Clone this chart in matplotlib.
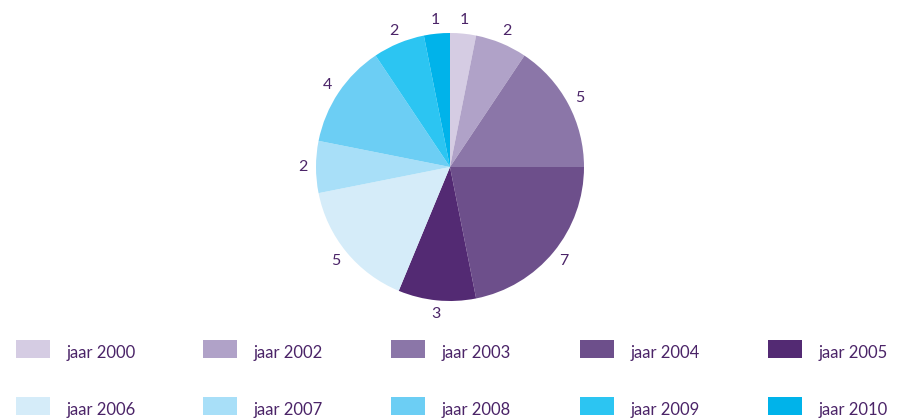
import matplotlib
matplotlib.use("Agg")
import matplotlib.pyplot as plt
from matplotlib.patches import Rectangle

categories = ["jaar 2000", "jaar 2002", "jaar 2003", "jaar 2004", "jaar 2005",
              "jaar 2006", "jaar 2007", "jaar 2008", "jaar 2009", "jaar 2010"]
values = [1, 2, 5, 7, 3, 5, 2, 4, 2, 1]
colors = ["#d5cce3", "#b0a2c8", "#8b76a8", "#6d4f8b", "#532a73",
          "#d5ecf9", "#a8dff8", "#6ccef4", "#2cc5f2", "#00b3ea"]
text_color = "#4b2468"

W, H = 898, 419
fig = plt.figure(figsize=(W / 100, H / 100), dpi=100)

cx, cy, r = 450, 167, 134
ax = fig.add_axes([(cx - r) / W, (H - cy - r) / H, 2 * r / W, 2 * r / H])
wedges, texts = ax.pie(values, colors=colors, startangle=90, counterclock=False,
                       labels=[str(v) for v in values], labeldistance=1.1,
                       textprops=dict(color=text_color, fontsize=11.5, family="Lato"),
                       wedgeprops=dict(linewidth=0))
for t in texts:
    t.set_ha("center")
    t.set_va("center")
ax.set_aspect("equal")
ax.set_xlim(-1, 1)
ax.set_ylim(-1, 1)
ax.axis("off")

# legend
col_x = [16, 203, 391, 580, 768]
row_y = [340, 397]
pw, ph = 34, 18
for i, (lab, c) in enumerate(zip(categories, colors)):
    row, col = divmod(i, 5)
    x0 = col_x[col]
    y0 = row_y[row]
    fig.add_artist(Rectangle((x0 / W, 1 - (y0 + ph) / H), pw / W, ph / H,
                             transform=fig.transFigure, facecolor=c, edgecolor="none"))
    fig.text((x0 + 51) / W, 1 - (y0 + ph / 2 + 4) / H, lab, color=text_color,
             fontsize=12, family="Lato", ha="left", va="center")

fig.savefig("out.png", dpi=100)
